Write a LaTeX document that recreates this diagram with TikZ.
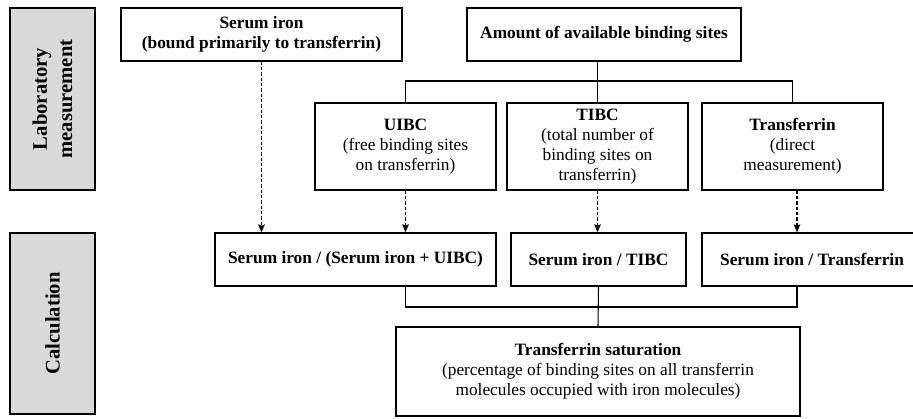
\documentclass[tikz,border=0pt]{standalone}
\usepackage{fontspec}
\setmainfont{Liberation Serif}
\usepackage{tikz}
\usetikzlibrary{arrows.meta,calc}

\definecolor{panelgray}{RGB}{217,217,217}

\begin{document}
\begin{tikzpicture}[
  x=0.75pt, y=-0.75pt,
  font=\fontsize{13}{15}\selectfont,
  box/.style={draw, line width=1pt, align=center, inner sep=2pt, minimum height=39.75pt},
  midbox/.style={box, minimum width=135.75pt, minimum height=65.25pt},
  side/.style={draw, line width=1pt, fill=panelgray, rotate=90, align=center, minimum width=136.5pt, minimum height=63.75pt, font=\fontsize{15.5}{19}\selectfont\bfseries},
  link/.style={line width=0.8pt},
  dasharr/.style={line width=0.8pt, dash pattern=on 2.5pt off 1.5pt, -{Stealth[length=6pt,width=5pt,inset=1pt]}}
]
\useasboundingbox (0,0) rectangle (913,418);

% row labels
\node[side] (lab) at (52.5,99) {Laboratory\\measurement};
\node[side, minimum width=135.75pt] (calc) at (52.5,323.5) {Calculation};

% laboratory measurement
\node[box, minimum width=210.75pt, font=\fontsize{13}{15}\selectfont\bfseries] (iron) at (261.5,34.5) {Serum iron\\(bound primarily to transferrin)};
\node[box, minimum width=205.5pt, font=\fontsize{13}{15}\selectfont\bfseries] (sites) at (604,34.5) {Amount of available binding sites};
\node[midbox] (uibc) at (405.5,146.5) {\textbf{UIBC}\\(free binding sites\\on transferrin)};
\node[midbox] (tibc) at (597.5,146.5) {\textbf{TIBC}\\(total number of\\binding sites on\\transferrin)};
\node[midbox] (trf) at (792.5,146.5) {\textbf{Transferrin}\\(direct\\measurement)};

% calculation
\node[box, minimum width=210.75pt, font=\fontsize{13}{15}\selectfont\bfseries] (r1) at (355.5,259.5) {Serum iron / (Serum iron + UIBC)};
\node[box, minimum width=131.25pt, font=\fontsize{13}{15}\selectfont\bfseries] (r2) at (598.5,259.5) {Serum iron / TIBC};
\node[box, minimum width=165pt, font=\fontsize{13}{15}\selectfont\bfseries] (r3) at (812,259.5) {Serum iron / Transferrin};
\node[box, minimum width=303pt, minimum height=66.75pt] (sat) at (598,371.5) {\textbf{Transferrin saturation}\\(percentage of binding sites on all transferrin\\molecules occupied with iron molecules)};

\coordinate (split) at (597.5,81);
\coordinate (join) at (598.5,307);
\coordinate (tcol) at (797,0);

\draw[link] (sites.south -| tibc.north) -- (tibc.north);
\draw[link] (uibc.north) |- (split) -| (trf.north);

\draw[dasharr] (iron.south) -- (iron.south |- r1.north);
\draw[dasharr] (uibc.south) -- (uibc.south |- r1.north);
\draw[dasharr] (tibc.south) -- (tibc.south |- r2.north);
\draw[dasharr] (trf.south -| tcol) -- (r3.north -| tcol);

\draw[link] (r1.south -| uibc.south) |- (join) -| (r3.south -| tcol);
\draw[link] (r2.south) -- (sat.north);
\end{tikzpicture}
\end{document}
